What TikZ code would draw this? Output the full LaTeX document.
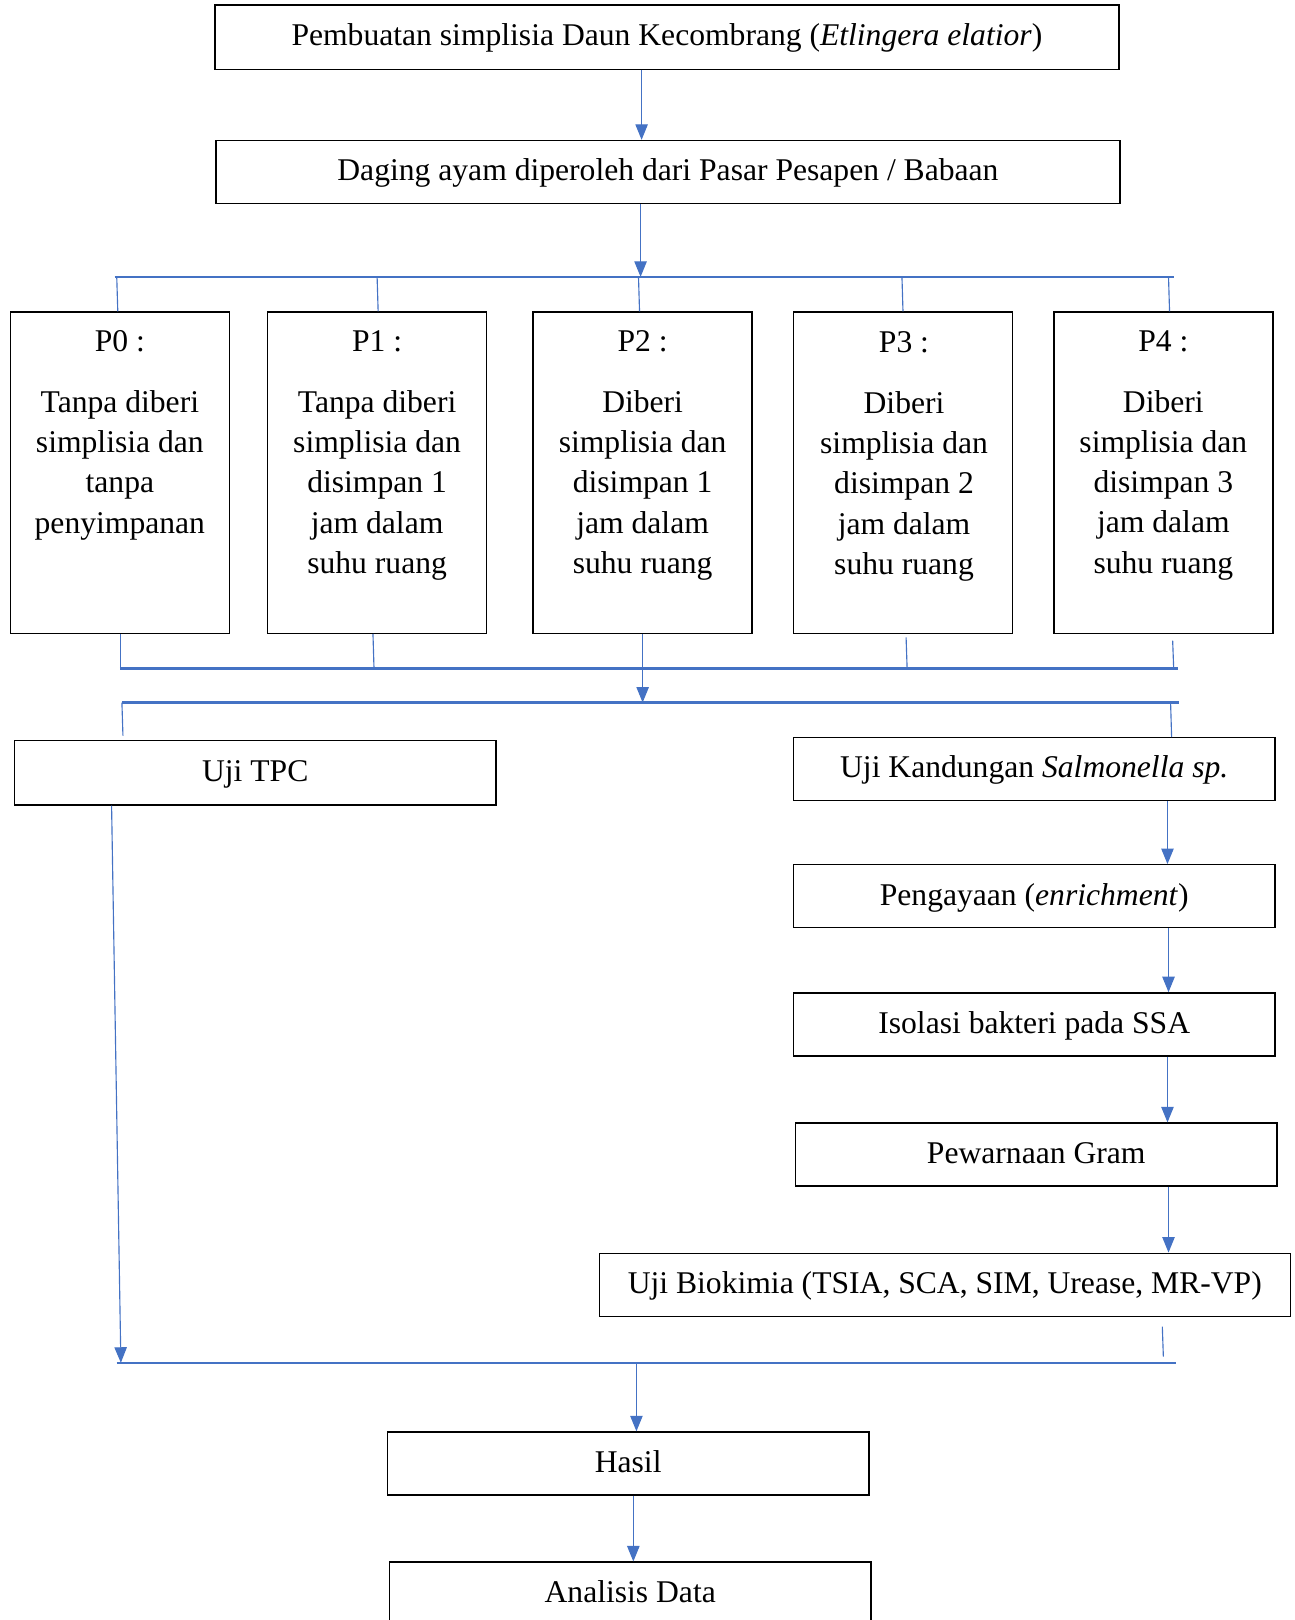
\documentclass[tikz,border=0pt]{standalone}
\usepackage{fontspec}
\setmainfont{Liberation Serif}
\usetikzlibrary{arrows.meta}
\definecolor{lb}{HTML}{4472C4}
\begin{document}
\begin{tikzpicture}[x=1pt,y=-1pt,
  txt/.style={font=\fontsize{30.6}{39}\selectfont},
  bx/.style={draw=black,line width=1.3pt,inner sep=0pt,minimum width=466pt,minimum height=62pt,txt,text height=23pt,text depth=6pt},
  pbx/.style={draw=black,line width=1.3pt,inner sep=0pt,minimum width=212pt,minimum height=311pt},
  ptxt/.style={txt,align=center,inner sep=0pt,anchor=north},
  ln/.style={draw=lb,line width=1.1pt},
  hb/.style={draw=lb,line width=2.2pt},
  arr/.style={ln,-{Triangle[width=12pt,length=15pt]}}]
\useasboundingbox (0,0) rectangle (1253,1568);
\clip (0,0) rectangle (1253,1568);
% main boxes
\node[bx,minimum width=875pt] (b1) at (645.5,36) {Pembuatan simplisia Daun Kecombrang (\textit{Etlingera elatior})};
\node[bx,minimum width=875pt,minimum height=61pt] (b2) at (646.5,166.5) {Daging ayam diperoleh dari Pasar Pesapen / Babaan};
% P boxes
\node[pbx] (p0) at (116,457.5) {};
\node[pbx] (p1) at (365,457.5) {};
\node[pbx] (p2) at (622,457.5) {};
\node[pbx] (p3) at (874,457.5) {};
\node[pbx] (p4) at (1126,457.5) {};
\node[ptxt] (t0) at (116,319.5) {P0 :\\[20pt]Tanpa diberi\\simplisia dan\\tanpa\\penyimpanan};
\node[ptxt] (t1) at (365,319.5) {P1 :\\[20pt]Tanpa diberi\\simplisia dan\\disimpan 1\\jam dalam\\suhu ruang};
\node[ptxt] (t2) at (622,319.5) {P2 :\\[20pt]Diberi\\simplisia dan\\disimpan 1\\jam dalam\\suhu ruang};
\node[ptxt] (t3) at (875,320.5) {P3 :\\[20pt]Diberi\\simplisia dan\\disimpan 2\\jam dalam\\suhu ruang};
\node[ptxt] (t4) at (1126,319.5) {P4 :\\[20pt]Diberi\\simplisia dan\\disimpan 3\\jam dalam\\suhu ruang};
% test boxes
\node[bx] (tpc) at (247,748) {Uji TPC};
\node[bx,minimum height=61pt] (sal) at (1001,744.5) {Uji Kandungan \textit{Salmonella sp.}};
\node[bx,minimum height=61pt] (eng) at (1001,867.5) {Pengayaan (\textit{enrichment})};
\node[bx,minimum height=61pt] (iso) at (1001,991.5) {Isolasi bakteri pada SSA};
\node[bx,minimum height=61pt] (gram) at (1003,1117.5) {Pewarnaan Gram};
\node[bx,minimum width=669pt,minimum height=61pt] (bio) at (914.5,1243.5) {Uji Biokimia (TSIA, SCA, SIM, Urease, MR-VP)};
\node[bx,minimum height=61pt] (hasil) at (608,1416.5) {Hasil};
\node[bx] (anal) at (610,1543) {Analisis Data};
% junction bars
\coordinate (h1L) at (111,268); \coordinate (h1R) at (1136,268);
\coordinate (h2L) at (116,647); \coordinate (h2R) at (1140,647);
\coordinate (h3L) at (118,680); \coordinate (h3R) at (1141,680);
\coordinate (h4L) at (113,1319); \coordinate (h4R) at (1138,1319);
\draw[hb] (h1L) -- (h1R);
\draw[hb] (h2L) -- (h2R);
\draw[hb] (h3L) -- (h3R);
\draw[hb] (h4L) -- (h4R);
% arrows top
\draw[arr] (b1.south -| 621,0) -- (b2.north -| 621,0);
\draw[arr] (b2.south -| 620,0) -- (h1L -| 620,0);
% drops to P boxes
\draw[ln] (h1L -| 113,0) -- (p0.north -| 114,0);
\draw[ln] (h1L -| 365,0) -- (p1.north -| 366,0);
\draw[ln] (h1L -| 618,0) -- (p2.north -| 619,0);
\draw[ln] (h1L -| 873,0) -- (p3.north -| 874,0);
\draw[ln] (h1L -| 1131,0) -- (p4.north -| 1132,0);
% from P boxes
\draw[ln] (p0.south -| 117,0) -- (h2L -| 117,0);
\draw[ln] (p1.south -| 361,0) -- (h2L -| 362,0);
\draw[arr] (p2.south -| 622,0) -- (h3L -| 622,0);
\draw[ln] (877,617) -- (h2L -| 878,0);
\draw[ln] (1135,620) -- (h2L -| 1136,0);
% drops to tests
\draw[ln] (h3L -| 118,0) -- (119,712);
\draw[ln] (h3R -| 1133,0) -- (sal.north -| 1134,0);
% salmonella chain
\draw[arr] (sal.south -| 1130,0) -- (eng.north -| 1130,0);
\draw[arr] (eng.south -| 1131,0) -- (iso.north -| 1131,0);
\draw[arr] (iso.south -| 1130,0) -- (gram.north -| 1130,0);
\draw[arr] (gram.south -| 1131,0) -- (bio.north -| 1131,0);
\draw[ln] (1125,1284) -- (1126,1313);
% TPC long line
\draw[arr] (tpc.south -| 108,0) -- (h4L -| 117,0);
% bottom
\draw[arr] (h4L -| 616,0) -- (hasil.north -| 616,0);
\draw[arr] (hasil.south -| 613,0) -- (anal.north -| 613,0);
\end{tikzpicture}
\end{document}
